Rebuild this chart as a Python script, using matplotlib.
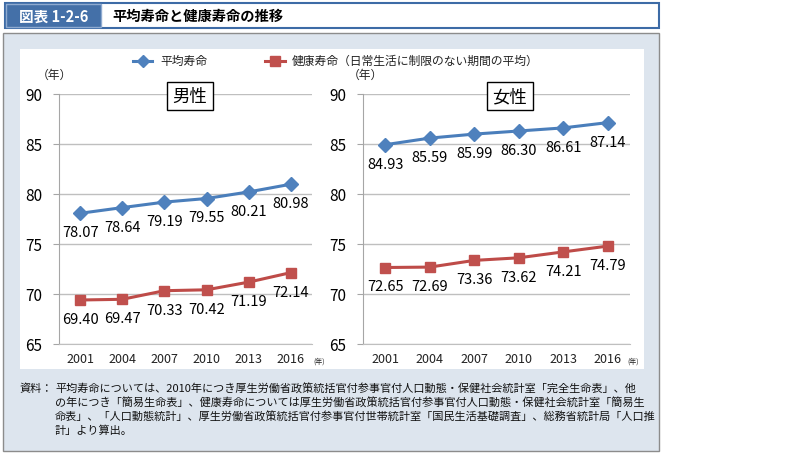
import matplotlib
matplotlib.use("Agg")
import matplotlib.pyplot as plt
from matplotlib.patches import Rectangle
from matplotlib.lines import Line2D

plt.rcParams['font.family'] = ['Noto Sans CJK JP', 'DejaVu Sans']

years = ['2001', '2004', '2007', '2010', '2013', '2016']
male_life = [78.07, 78.64, 79.19, 79.55, 80.21, 80.98]
male_healthy = [69.40, 69.47, 70.33, 70.42, 71.19, 72.14]
female_life = [84.93, 85.59, 85.99, 86.30, 86.61, 87.14]
female_healthy = [72.65, 72.69, 73.36, 73.62, 74.21, 74.79]
y_ticks = [65, 70, 75, 80, 85, 90]

title_num = '図表 1-2-6'
title_text = '平均寿命と健康寿命の推移'
legend_labels = ['平均寿命', '健康寿命（日常生活に制限のない期間の平均）']
panel_titles = ['男性', '女性']
note_lines = [
    '平均寿命については、2010年につき厚生労働省政策統括官付参事官付人口動態・保健社会統計室「完全生命表」、他',
    'の年につき「簡易生命表」、健康寿命については厚生労働省政策統括官付参事官付人口動態・保健社会統計室「簡易生',
    '命表」、「人口動態統計」、厚生労働省政策統括官付参事官付世帯統計室「国民生活基礎調査」、総務省統計局「人口推',
    '計」より算出。',
]

W, H = 800, 456
BLUE = '#4a7ebb'
BLUE_M = '#4f81bd'
RED = '#be4b48'
RED_M = '#c0504d'

fig = plt.figure(figsize=(W / 100, H / 100), dpi=100)


def fx(x):
    return x / W


def fy(y):
    return 1 - y / H


def rect(x0, y0, x1, y1, z=-10, **kw):
    fig.patches.append(Rectangle((fx(x0), fy(y1)), fx(x1) - fx(x0), fy(y0) - fy(y1),
                                 transform=fig.transFigure, zorder=z, **kw))


# title bar
rect(5, 4, 659, 29, facecolor='white', edgecolor='#3d6ba6', linewidth=1.5)
rect(6, 5, 101, 28, z=-9, facecolor='#4470a8', edgecolor='#8eaad0', linewidth=1.0)
fig.text(fx(54), fy(17), title_num, color='white', fontsize=10.5, fontweight='bold',
         ha='center', va='center')
fig.text(fx(112), fy(17), title_text, color='black', fontsize=10.3, fontweight='bold',
         ha='left', va='center')

# outer panel
rect(3, 34, 659, 452, facecolor='#dde5ee', edgecolor='#8c8c8c', linewidth=1.0)
rect(20, 50, 644, 370, z=-9, facecolor='white', edgecolor='none')

# legend
fig.lines.append(Line2D([fx(133), fx(152)], [fy(62), fy(62)], color=BLUE, lw=2.2,
                        transform=fig.transFigure))
fig.lines.append(Line2D([fx(142.5)], [fy(62)], color=BLUE_M, marker='D', markersize=6,
                        transform=fig.transFigure))
fig.text(fx(160), fy(61), legend_labels[0], fontsize=8.5, ha='left', va='center', color='#222222')
fig.lines.append(Line2D([fx(265), fx(285)], [fy(62), fy(62)], color=RED, lw=2.2,
                        transform=fig.transFigure))
fig.lines.append(Line2D([fx(275)], [fy(62)], color=RED_M, marker='s', markersize=6.5,
                        transform=fig.transFigure))
fig.text(fx(292), fy(61), legend_labels[1], fontsize=8.5, ha='left', va='center', color='#222222')

panels = [
    (59, 312, male_life, male_healthy, panel_titles[0], 190),
    (363, 630, female_life, female_healthy, panel_titles[1], 510),
]

for x0, x1, life, healthy, ptitle, tx in panels:
    ax = fig.add_axes([fx(x0), fy(345), fx(x1) - fx(x0), fy(95) - fy(345)])
    ax.set_facecolor('none')
    xs = list(range(len(years)))
    ax.plot(xs, life, color=BLUE, lw=2.2, marker='D', markersize=7,
            markerfacecolor=BLUE_M, markeredgecolor=BLUE_M, zorder=3, clip_on=False)
    ax.plot(xs, healthy, color=RED, lw=2.2, marker='s', markersize=7,
            markerfacecolor=RED_M, markeredgecolor=RED_M, zorder=3, clip_on=False)
    for xi, v in zip(xs, life):
        ax.annotate(f'{v:.2f}', (xi, v), xytext=(0, -19), textcoords='offset pixels',
                    ha='center', va='center', fontsize=10.5, color='black')
    for xi, v in zip(xs, healthy):
        ax.annotate(f'{v:.2f}', (xi, v), xytext=(0, -19), textcoords='offset pixels',
                    ha='center', va='center', fontsize=10.5, color='black')
    ax.set_xlim(-0.5, len(years) - 0.5)
    ax.set_ylim(65, 90)
    ax.set_yticks(y_ticks)
    ax.set_yticklabels([str(t) for t in y_ticks], fontsize=11)
    ax.set_xticks(xs)
    ax.set_xticklabels(years, fontsize=9, color='#222222')
    ax.tick_params(axis='x', length=0, pad=6)
    ax.tick_params(axis='y', length=4, color='#a6a6a6', pad=8)
    ax.grid(axis='y', color='#bfbfbf', lw=1.0)
    ax.set_axisbelow(True)
    for s in ['top', 'right']:
        ax.spines[s].set_visible(False)
    ax.spines['left'].set_color('#a6a6a6')
    ax.spines['bottom'].set_color('#bfbfbf')
    fig.text(fx(tx), fy(97), ptitle, fontsize=12.5, ha='center', va='center',
             bbox=dict(boxstyle='square,pad=0.3', facecolor='white', edgecolor='black', lw=1.0))

fig.text(fx(54), fy(75), '（年）', fontsize=8.5, ha='center', va='center', color='#222222')
fig.text(fx(365), fy(75), '（年）', fontsize=8.5, ha='center', va='center', color='#222222')
fig.text(fx(319), fy(362), '(年)', fontsize=5, ha='center', va='center', color='#222222')
fig.text(fx(633), fy(362), '(年)', fontsize=5, ha='center', va='center', color='#222222')

# footnote
fig.text(fx(20), fy(389), '資料：', fontsize=8.0, ha='left', va='center', color='#111111')
for i, line in enumerate(note_lines):
    fig.text(fx(55), fy(389 + i * 14), line, fontsize=8.0, ha='left', va='center', color='#111111')

fig.savefig('out.png', dpi=100)
